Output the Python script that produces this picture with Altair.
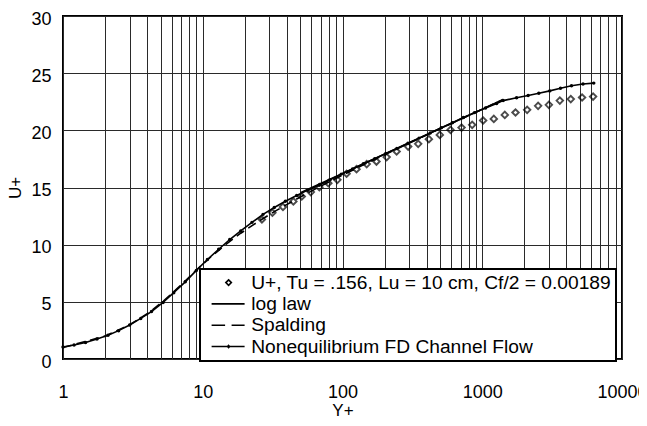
import altair as alt
import pandas as pd

# ---- data ----
series_names = [
    "U+, Tu = .156, Lu = 10 cm, Cf/2 = 0.00189",
    "log law",
    "Spalding",
    "Nonequilibrium FD Channel Flow",
]

meas_yplus = [26.5, 31.5, 37.5, 44.5, 51.1, 59.3, 68.3, 79.2, 91.9, 107, 126, 149, 175,
              207, 244, 295, 348, 415, 497, 593, 711, 847, 1015, 1210, 1450, 1730,
              2095, 2510, 2995, 3590, 4300, 5180, 6210]
meas_uplus = [12.2, 12.8, 13.3, 13.78, 14.21, 14.6, 15.03, 15.38, 15.67, 16.2, 16.6, 17.05,
              17.27, 17.66, 18.15, 18.58, 18.82, 19.23, 19.6, 20.04, 20.24, 20.48, 20.86,
              21.0, 21.35, 21.56, 21.79, 22.14, 22.23, 22.6, 22.73, 22.87, 22.95]

loglaw_yplus = [50, 100, 300, 1000, 1410]
loglaw_uplus = [14.54, 16.23, 18.91, 21.85, 22.69]

spalding_yplus = [1, 2, 3, 4.06, 5.15, 6.35, 7.74, 9.42, 11.6, 14.55, 18.7, 24.8, 33.7,
                  47, 67, 97, 142.5, 211, 315, 471, 707, 1064, 1416]
spalding_uplus = [1, 2, 3, 4, 5, 6, 7, 8, 9, 10, 11, 12, 13, 14, 15, 16, 17, 18, 19, 20,
                  21, 22, 22.7]

chan_yplus = [1, 1.2, 1.45, 1.75, 2.1, 2.5, 3.0, 3.6, 4.3, 5.2, 6.2, 7.5, 9.0, 10.8, 13,
              15.6, 18.7, 22.5, 27, 32.5, 39, 47, 56, 68, 81.5, 98, 118, 141, 170, 204,
              245, 294, 353, 424, 509, 611, 733, 880, 1056, 1267, 1410, 1760, 2130, 2540,
              3040, 3630, 4350, 5260, 6280]
chan_uplus = [1.05, 1.22, 1.45, 1.75, 2.08, 2.48, 2.98, 3.55, 4.15, 4.95, 5.8, 6.75, 7.75,
              8.7, 9.6, 10.45, 11.2, 11.95, 12.65, 13.25, 13.8, 14.3, 14.75, 15.2, 15.68,
              16.17, 16.62, 17.07, 17.52, 17.97, 18.42, 18.87, 19.32, 19.77, 20.22, 20.67,
              21.12, 21.55, 21.95, 22.35, 22.6, 22.85, 23.05, 23.25, 23.45, 23.68, 23.9,
              24.05, 24.13]

x_grid = [m * 10 ** e for e in range(4) for m in range(1, 10)] + [10000]
y_ticks = [0, 5, 10, 15, 20, 25, 30]

FONT = "Liberation Sans"

meas = pd.DataFrame({"yp": meas_yplus, "up": meas_uplus})
loglaw = pd.DataFrame({"yp": loglaw_yplus, "up": loglaw_uplus})
spald = pd.DataFrame({"yp": spalding_yplus, "up": spalding_uplus})
chan = pd.DataFrame({"yp": chan_yplus, "up": chan_uplus})
leg = pd.DataFrame({"series": series_names})

xs = alt.Scale(type="log", domain=[1, 10000], nice=False)
ys = alt.Scale(domain=[0, 30], nice=False)

label_expr = "indexof([1,10,100,1000,10000], datum.value) >= 0 ? datum.label : ''"

x_enc = alt.X("yp:Q", scale=xs, title="Y+",
              axis=alt.Axis(values=x_grid, format="d", labelExpr=label_expr,
                            labelOverlap=False, labelFlush=False, labelBound=False,
                            ticks=False, domain=False, grid=True, gridColor="#2a2a2a",
                            gridWidth=1, labelPadding=24, labelFontSize=18,
                            titleFontSize=17, titleBaseline="alphabetic", titleY=56))
y_enc = alt.Y("up:Q", scale=ys, title="U+",
              axis=alt.Axis(values=y_ticks, ticks=False, domain=False, grid=True,
                            gridColor="#2a2a2a", gridWidth=1, labelPadding=12,
                            labelOffset=3, labelFlush=False, labelFontSize=18,
                            titleFontSize=17, titlePadding=6))

spalding_layer = alt.Chart(spald).mark_line(color="black", strokeWidth=1.6,
                                            strokeDash=[9, 5]).encode(x=x_enc, y=y_enc)
loglaw_layer = alt.Chart(loglaw).mark_line(color="black", strokeWidth=1.6).encode(x=x_enc, y=y_enc)
chan_layer = alt.Chart(chan).mark_line(color="black", strokeWidth=1.6,
                                       point=alt.OverlayMarkDef(filled=True, color="black",
                                                                size=12)).encode(x=x_enc, y=y_enc)
meas_layer = alt.Chart(meas).mark_point(shape="diamond", filled=False, color="black",
                                        strokeWidth=1.9, size=42).encode(x=x_enc, y=y_enc)

# legend symbols (custom paths in units of sqrt(size)/2 px)
leg_paths = [
    "M3.0,-0.55L3.55,0L3.0,0.55L2.45,0Z",
    "M-0.4,0L6.2,0",
    "M-0.4,0L2.3,0M3.6,0L6.2,0",
    "M-0.4,0L6.2,0M3.0,-0.2L3.2,0L3.0,0.2L2.8,0Z",
]

legend_layer = alt.Chart(leg).transform_filter("false").mark_point(
    color="black", filled=False, strokeWidth=1.6
).encode(
    x=alt.value(0), y=alt.value(0),
    shape=alt.Shape("series:N",
                    scale=alt.Scale(domain=series_names, range=leg_paths),
                    legend=alt.Legend(title=None, orient="none", legendX=137, legendY=253,
                                      padding=4, fillColor="white", strokeColor="black",
                                      symbolSize=100, symbolStrokeWidth=1.6,
                                      symbolStrokeColor="black", symbolFillColor="white",
                                      symbolOpacity=1, labelOffset=28, labelLimit=600,
                                      labelFontSize=19.2, labelFont=FONT, labelColor="black",
                                      rowPadding=1.3))
)

chart = alt.layer(spalding_layer, loglaw_layer, chan_layer, meas_layer, legend_layer).properties(
    width=559, height=343,
    autosize=alt.AutoSizeParams(type="none"),
    padding={"left": 55, "top": 8, "right": 17, "bottom": 59},
).configure(font=FONT).configure_view(
    stroke="black", strokeWidth=2
).configure_axis(
    labelColor="black", titleColor="black", labelFont=FONT, titleFont=FONT,
    titleFontWeight="normal"
).configure_legend(strokeWidth=2)

chart.save("out.html", embed_options={"renderer": "svg", "actions": False})
